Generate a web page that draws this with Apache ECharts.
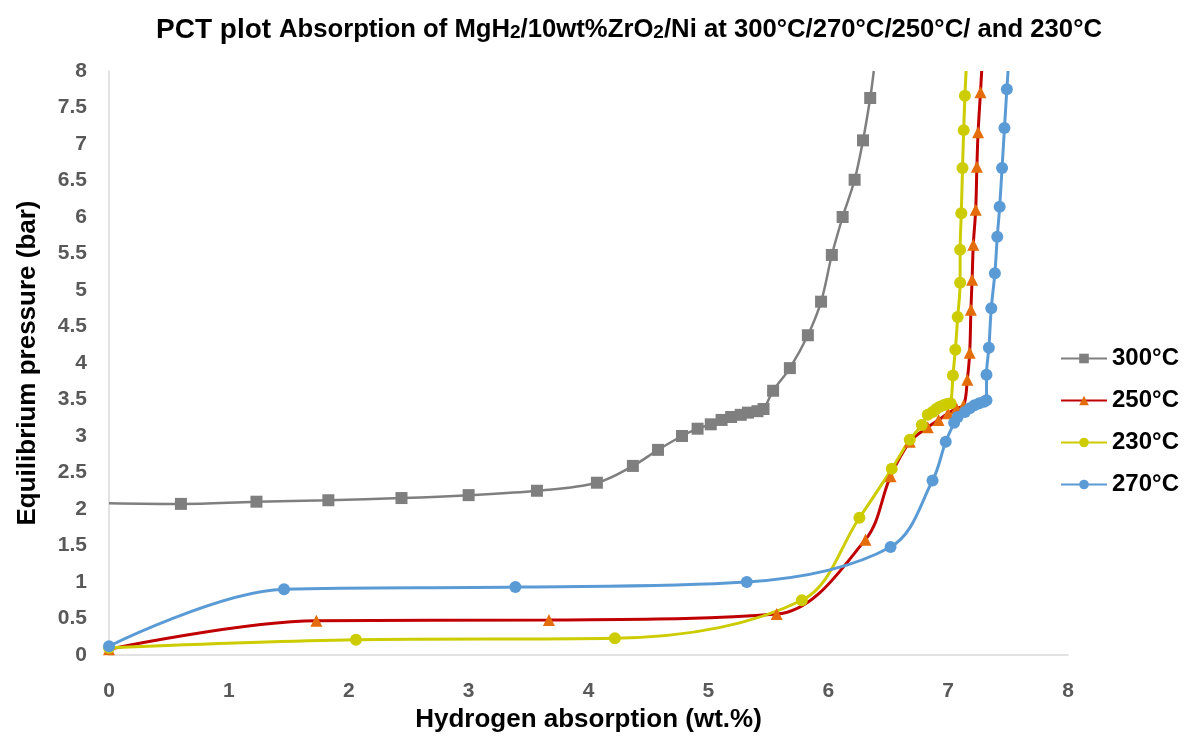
<!DOCTYPE html>
<html>
<head>
<meta charset="utf-8">
<script src="https://cdn.jsdelivr.net/npm/echarts@6/dist/echarts.min.js"></script>
<style>
  html, body { margin: 0; padding: 0; background: #fff; }
  #chart { width: 1189px; height: 736px; }
</style>
</head>
<body>
<div id="chart"></div>
<script>
// Hydrogen absorption (wt.%) and equilibrium pressure (bar) for each temperature
const h300 = [0, 0.6, 1.23, 1.83, 2.44, 3.0, 3.57, 4.07, 4.37, 4.58, 4.78, 4.91, 5.02, 5.11, 5.19, 5.27, 5.33, 5.41, 5.46, 5.54, 5.68, 5.83, 5.94, 6.03, 6.12, 6.22, 6.29, 6.35, 6.38];
const p300 = [2.08, 2.07, 2.10, 2.12, 2.15, 2.19, 2.25, 2.36, 2.59, 2.81, 3.0, 3.10, 3.16, 3.22, 3.26, 3.29, 3.32, 3.34, 3.37, 3.62, 3.93, 4.38, 4.84, 5.48, 6.0, 6.51, 7.05, 7.63, 8.0];
const bare300 = [0, 28];

const h250 = [0, 1.73, 3.67, 5.57, 6.31, 6.52, 6.68, 6.83, 6.92, 7.0, 7.07, 7.13, 7.16, 7.18, 7.19, 7.20, 7.21, 7.23, 7.24, 7.25, 7.27, 7.28];
const p250 = [0.08, 0.47, 0.48, 0.56, 1.58, 2.45, 2.92, 3.12, 3.22, 3.31, 3.38, 3.42, 3.77, 4.14, 4.73, 5.14, 5.62, 6.10, 6.69, 7.16, 7.71, 8.0];
const bare250 = [21];

const h230 = [0, 2.06, 4.22, 5.78, 6.26, 6.53, 6.68, 6.78, 6.83, 6.87, 6.90, 6.93, 6.96, 6.99, 7.02, 7.04, 7.06, 7.08, 7.10, 7.10, 7.11, 7.12, 7.13, 7.14, 7.15];
const p230 = [0.1, 0.21, 0.23, 0.75, 1.88, 2.55, 2.95, 3.15, 3.29, 3.33, 3.37, 3.40, 3.42, 3.44, 3.45, 3.83, 4.18, 4.63, 5.10, 5.55, 6.05, 6.67, 7.19, 7.66, 8.0];
const bare230 = [24];

const h270 = [0, 1.46, 3.39, 5.32, 6.52, 6.87, 6.98, 7.05, 7.08, 7.14, 7.18, 7.22, 7.26, 7.30, 7.32, 7.32, 7.34, 7.36, 7.39, 7.41, 7.43, 7.45, 7.47, 7.49, 7.50];
const p270 = [0.12, 0.90, 0.93, 1.0, 1.48, 2.39, 2.92, 3.18, 3.26, 3.33, 3.38, 3.42, 3.45, 3.47, 3.49, 3.84, 4.21, 4.75, 5.23, 5.73, 6.14, 6.67, 7.22, 7.75, 8.0];
const bare270 = [24];

const xTicks = [0, 1, 2, 3, 4, 5, 6, 7, 8];
const yTicks = [0, 0.5, 1, 1.5, 2, 2.5, 3, 3.5, 4, 4.5, 5, 5.5, 6, 6.5, 7, 7.5, 8];

const FONT = '"Liberation Sans", Arial, sans-serif';

function points(xs, ys, bare) {
  return xs.map((x, i) => bare.includes(i)
    ? { value: [x, ys[i]], symbol: 'none' }
    : [x, ys[i]]);
}

function makeSeries(name, xs, ys, bare, lineColor, markColor, symbol, size, width) {
  return {
    name: name,
    type: 'line',
    smooth: 0.35,
    symbol: symbol,
    symbolSize: size,
    showAllSymbol: true,
    clip: true,
    lineStyle: { color: lineColor, width: width },
    itemStyle: { color: markColor, borderWidth: 0 },
    data: points(xs, ys, bare)
  };
}

const chart = echarts.init(document.getElementById('chart'));
chart.setOption({
  animation: false,
  backgroundColor: '#ffffff',
  title: {
    text: '{a|PCT plot }{b|Absorption of MgH}{s|2}{b|/10wt%ZrO}{s|2}{b|/Ni at 300°C/270°C/250°C/ and 230°C}',
    left: 624,
    top: 11,
    textAlign: 'center',
    textStyle: {
      rich: {
        a: { fontFamily: FONT, fontWeight: 'bold', fontSize: 28, color: '#000' },
        b: { fontFamily: FONT, fontWeight: 'bold', fontSize: 25.7, color: '#000' },
        s: { fontFamily: FONT, fontWeight: 'bold', fontSize: 19, color: '#000', padding: [5, 0, 0, 0] }
      }
    }
  },
  legend: {
    orient: 'vertical',
    left: 1055,
    top: 341,
    itemWidth: 46,
    itemHeight: 12,
    itemGap: 17,
    textStyle: { fontFamily: FONT, fontWeight: 'bold', fontSize: 24, lineHeight: 25, color: '#000' },
    data: ['300°C', '250°C', '230°C', '270°C']
  },
  grid: { left: 109, right: 121, top: 71, bottom: 81, outerBoundsMode: 'none' },
  xAxis: {
    type: 'value',
    min: xTicks[0],
    max: xTicks[xTicks.length - 1],
    interval: 1,
    name: 'Hydrogen absorption (wt.%)',
    nameLocation: 'middle',
    nameGap: 52,
    nameTextStyle: { fontFamily: FONT, fontWeight: 'bold', fontSize: 26, color: '#000' },
    axisLine: { show: true, lineStyle: { color: '#d9d9d9', width: 1.5 } },
    axisTick: { show: false },
    splitLine: { show: false },
    axisLabel: { margin: 26, fontFamily: FONT, fontWeight: 'bold', fontSize: 21, color: '#595959' }
  },
  yAxis: {
    type: 'value',
    min: yTicks[0],
    max: yTicks[yTicks.length - 1],
    interval: 0.5,
    name: 'Equilibrium pressure (bar)',
    nameLocation: 'middle',
    nameGap: 68,
    nameTextStyle: { fontFamily: FONT, fontWeight: 'bold', fontSize: 26, color: '#000' },
    axisLine: { show: true, lineStyle: { color: '#d9d9d9', width: 1.5 } },
    axisTick: { show: false },
    splitLine: { show: false },
    axisLabel: { margin: 22, fontFamily: FONT, fontWeight: 'bold', fontSize: 21, color: '#595959' }
  },
  series: [
    makeSeries('300°C', h300, p300, bare300, '#7f7f7f', '#7f7f7f', 'rect', 12, 2.5),
    makeSeries('250°C', h250, p250, bare250, '#c00000', '#e46c0a', 'triangle', 12, 3),
    makeSeries('230°C', h230, p230, bare230, '#cccc00', '#cccc00', 'circle', 12, 3),
    makeSeries('270°C', h270, p270, bare270, '#5b9bd5', '#5b9bd5', 'circle', 12, 3)
  ]
});
</script>
</body>
</html>
